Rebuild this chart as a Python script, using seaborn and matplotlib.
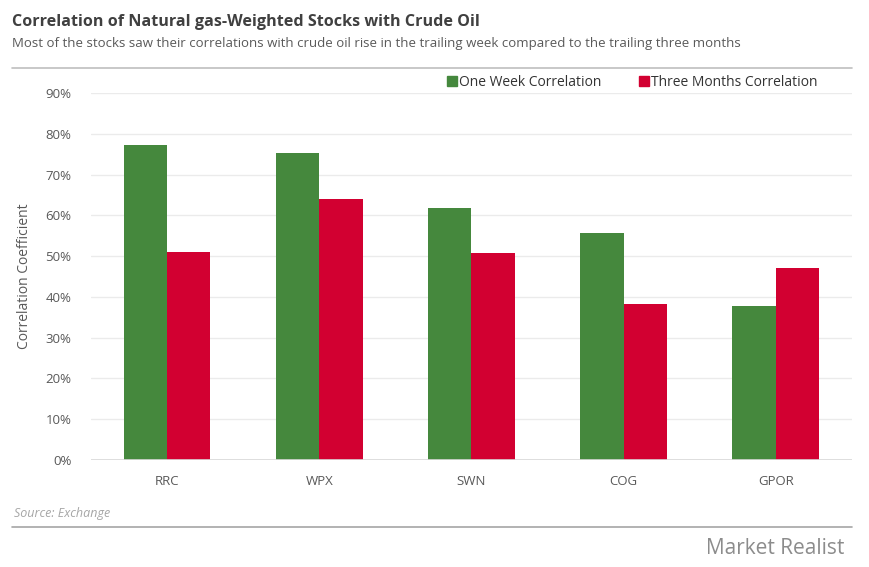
import pandas as pd
import matplotlib.pyplot as plt
import seaborn as sns
from matplotlib.ticker import PercentFormatter
from matplotlib.lines import Line2D

# data
tickers = ["RRC", "WPX", "SWN", "COG", "GPOR"]
one_week = [77.2, 75.4, 61.9, 55.6, 37.8]
three_months = [51.1, 64.1, 50.8, 38.3, 47.2]
series_names = ["One Week Correlation", "Three Months Correlation"]
colors = ["#45883D", "#D20031"]

df = pd.DataFrame({
    "ticker": tickers * 2,
    "series": [series_names[0]] * len(tickers) + [series_names[1]] * len(tickers),
    "value": one_week + three_months,
})

sns.set_theme(style="white")
plt.rcParams['font.family'] = ['Open Sans', 'DejaVu Sans']

fig = plt.figure(figsize=(8.69, 5.67), dpi=100)
ax = fig.add_axes([0.1047, 0.1887, 0.8755, 0.6473])

sns.barplot(data=df, x="ticker", y="value", hue="series", palette=colors,
            width=0.57, saturation=1, linewidth=0, ax=ax, legend=False)

ax.set_ylim(0, 90)
ax.set_yticks(range(0, 91, 10))
ax.yaxis.set_major_formatter(PercentFormatter(decimals=0))
ax.set_xlim(-0.5, len(tickers) - 0.5)
ax.grid(axis="y", color="#EBEBEB", linewidth=1)
ax.set_axisbelow(True)
for s in ["top", "right", "left", "bottom"]:
    ax.spines[s].set_visible(False)
ax.axhline(0, color="#D9D9D9", linewidth=1.2, zorder=3)
ax.tick_params(axis="both", length=0, labelsize=9.5, labelcolor="#595959")
ax.tick_params(axis="y", pad=14)
ax.tick_params(axis="x", pad=11)
ax.set_xlabel("")
ax.set_ylabel("Correlation Coefficient", fontsize=10, color="#595959", labelpad=10)

handles = [Line2D([0], [0], marker="s", color="none", markerfacecolor=c,
                  markeredgecolor=c, markersize=7) for c in colors]
fig.legend(handles, series_names, loc="center", bbox_to_anchor=(0.727, 0.855),
           ncol=2, frameon=False, fontsize=10, handletextpad=0.1,
           columnspacing=2.7, handlelength=0.8, labelcolor="#333333")

# titles and decorations
fig.text(0.014, 0.962, "Correlation of Natural gas-Weighted Stocks with Crude Oil",
         fontsize=11.6, fontweight="bold", color="#404040", va="center")
fig.text(0.014, 0.924, "Most of the stocks saw their correlations with crude oil rise in the trailing week compared to the trailing three months",
         fontsize=9.5, color="#595959", va="center")
fig.add_artist(Line2D([0.014, 0.98], [0.880, 0.880], color="#BFBFBF", linewidth=1.2))
fig.text(0.016, 0.095, "Source: Exchange", fontsize=9, style="italic",
         color="#A6A6A6", va="center")
fig.add_artist(Line2D([0.014, 0.98], [0.071, 0.071], color="#A6A6A6", linewidth=1.2))
fig.text(0.972, 0.033, "Market Realist", fontsize=15, color="#8C8C8C",
         ha="right", va="center")

fig.savefig("out.png", dpi=100)
